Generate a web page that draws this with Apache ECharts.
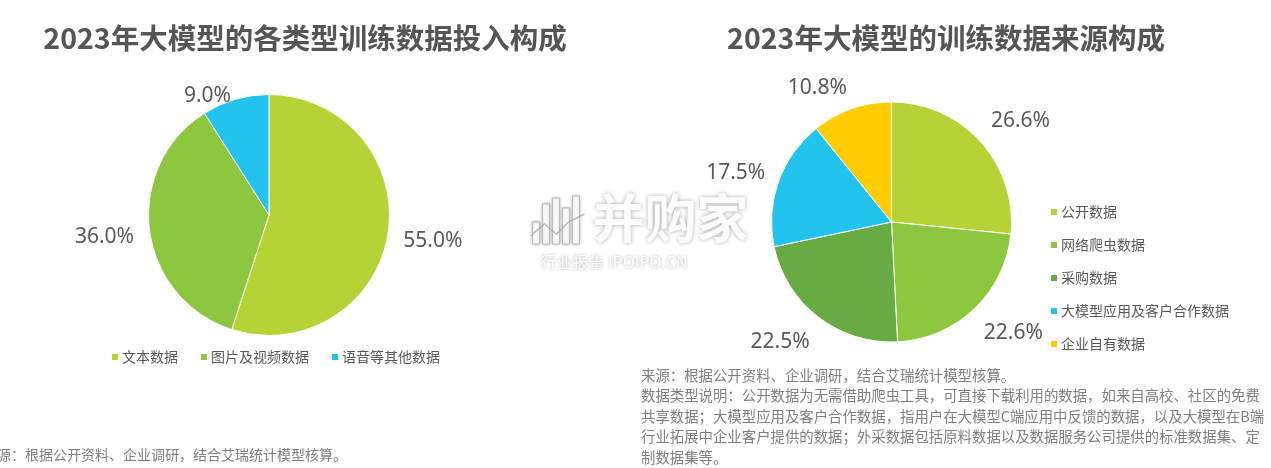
<!DOCTYPE html>
<html>
<head>
<meta charset="utf-8">
<script src="https://cdn.jsdelivr.net/npm/echarts@6/dist/echarts.min.js"></script>
<style>
html,body{margin:0;padding:0;background:#fff;}
#chart{width:1271px;height:468px;}
</style>
</head>
<body>
<div id="chart"></div>
<script>
// ---- data ----
const leftTitle = '2023年大模型的各类型训练数据投入构成';
const rightTitle = '2023年大模型的训练数据来源构成';
const leftCategories = ['文本数据', '图片及视频数据', '语音等其他数据'];
const leftValues = [55.0, 36.0, 9.0];
const rightCategories = ['公开数据', '网络爬虫数据', '采购数据', '大模型应用及客户合作数据', '企业自有数据'];
const rightValues = [26.6, 22.6, 22.5, 17.5, 10.8];
const leftSource = '来源：根据公开资料、企业调研，结合艾瑞统计模型核算。';
const rightNotes = [
  '来源：根据公开资料、企业调研，结合艾瑞统计模型核算。',
  '数据类型说明：公开数据为无需借助爬虫工具，可直接下载利用的数据，如来自高校、社区的免费',
  '共享数据；大模型应用及客户合作数据，指用户在大模型C端应用中反馈的数据，以及大模型在B端',
  '行业拓展中企业客户提供的数据；外采数据包括原料数据以及数据服务公司提供的标准数据集、定',
  '制数据集等。'
];

// ---- styles ----
const leftColors = ['#b5d334', '#8dc63f', '#22c3ed'];
const rightColors = ['#b5d334', '#8dc63f', '#69ab43', '#22c3ed', '#ffcc00'];
const leftLabelNudge = [5, 5, 12];
const rightLabelNudge = [-11, 14, 14, -4, -8];
const FONT = '"Noto Sans CJK SC", "Noto Sans", sans-serif';
const NUMFONT = '"Noto Sans", "Open Sans", sans-serif';

const chart = echarts.init(document.getElementById('chart'), null, {renderer: 'canvas'});

function pieData(cats, vals, colors) {
  return cats.map((c, i) => ({name: c, value: vals[i], itemStyle: {color: colors[i]}}));
}

const labelCommon = {
  show: true,
  position: 'outside',
  distanceToLabelLine: 0,
  color: '#595959',
  fontSize: 21,
  fontFamily: NUMFONT,
  formatter: p => p.value.toFixed(1) + '%'
};

const wmFill = 'rgba(255,255,255,0.95)';
const wmShadow = 'rgba(0,0,0,0.35)';

const option = {
  backgroundColor: '#fff',
  animation: false,
  title: [
    {text: leftTitle, left: 300, top: 19, textAlign: 'center',
     textStyle: {fontSize: 28.5, fontWeight: 'bold', color: '#555555', fontFamily: FONT}},
    {text: rightTitle, left: 941, top: 19, textAlign: 'center',
     textStyle: {fontSize: 28.5, fontWeight: 'bold', color: '#555555', fontFamily: FONT}}
  ],
  legend: [
    {data: leftCategories, orient: 'horizontal', left: 110, top: 350, padding: 0,
     itemWidth: 8, itemHeight: 8, itemGap: 21, icon: 'rect',
     textStyle: {fontSize: 14, color: '#595959', fontFamily: FONT, padding: [0, 0, 0, -2]}},
    {data: rightCategories, orient: 'vertical', left: 1049, top: 205, padding: 0,
     itemWidth: 8, itemHeight: 8, itemGap: 19, icon: 'rect',
     textStyle: {fontSize: 14, lineHeight: 14, color: '#595959', fontFamily: FONT, padding: [0, 0, 0, -2]}}
  ],
  graphic: [
    {type: 'text', left: -17, top: 448, z: 10,
     style: {text: leftSource, fill: '#7f7f7f', font: '14px ' + FONT}},
    {type: 'text', left: 641, top: 365, z: 10,
     style: {text: rightNotes.join('\n'), fill: '#7f7f7f', font: '14.4px ' + FONT, lineHeight: 20.5}},
    // watermark
    {type: 'group', left: 528, top: 192, z: 100, silent: true, children: [
      {type: 'rect', shape: {x: 4, y: 28, width: 7, height: 22}, style: {fill: wmFill, stroke: 'rgba(170,170,170,0.6)', lineWidth: 1, shadowBlur: 3, shadowColor: wmShadow}},
      {type: 'rect', shape: {x: 14, y: 10, width: 7, height: 40}, style: {fill: wmFill, stroke: 'rgba(170,170,170,0.6)', lineWidth: 1, shadowBlur: 3, shadowColor: wmShadow}},
      {type: 'rect', shape: {x: 24, y: 4, width: 7, height: 46}, style: {fill: wmFill, stroke: 'rgba(170,170,170,0.6)', lineWidth: 1, shadowBlur: 3, shadowColor: wmShadow}},
      {type: 'rect', shape: {x: 34, y: 14, width: 7, height: 36}, style: {fill: wmFill, stroke: 'rgba(170,170,170,0.6)', lineWidth: 1, shadowBlur: 3, shadowColor: wmShadow}},
      {type: 'rect', shape: {x: 44, y: 2, width: 7, height: 48}, style: {fill: wmFill, stroke: 'rgba(170,170,170,0.6)', lineWidth: 1, shadowBlur: 3, shadowColor: wmShadow}},
      {type: 'polyline', shape: {points: [[2, 42], [16, 30], [28, 40], [40, 28], [56, 20]]}, style: {stroke: 'rgba(170,170,170,0.8)', lineWidth: 1.5, fill: null}},
      {type: 'text', x: 64, y: -2, style: {text: '并购家', font: 'bold 52px ' + FONT, fill: wmFill, textShadowBlur: 4, textShadowColor: wmShadow}},
      {type: 'text', x: 12, y: 60, style: {text: '行业报告 IPOIPO.CN', font: '16px ' + FONT, fill: wmFill, textShadowBlur: 3, textShadowColor: wmShadow}}
    ]}
  ],
  series: [
    {
      type: 'pie', name: 'left', center: [269, 215], radius: 120.5,
      startAngle: 90, clockwise: true, avoidLabelOverlap: false,
      data: pieData(leftCategories, leftValues, leftColors),
      itemStyle: {borderColor: '#fff', borderWidth: 1},
      label: labelCommon,
      labelLine: {show: false, length: 15.5, length2: 0},
      labelLayout: p => ({dy: leftLabelNudge[p.dataIndex]}),
      emphasis: {disabled: true}
    },
    {
      type: 'pie', name: 'right', center: [891.5, 222], radius: 120,
      startAngle: 90, clockwise: true, avoidLabelOverlap: false,
      data: pieData(rightCategories, rightValues, rightColors),
      itemStyle: {borderColor: '#fff', borderWidth: 1},
      label: labelCommon,
      labelLine: {show: false, length: 14, length2: 0},
      labelLayout: p => ({dy: rightLabelNudge[p.dataIndex]}),
      emphasis: {disabled: true}
    }
  ]
};
chart.setOption(option);
</script>
</body>
</html>
